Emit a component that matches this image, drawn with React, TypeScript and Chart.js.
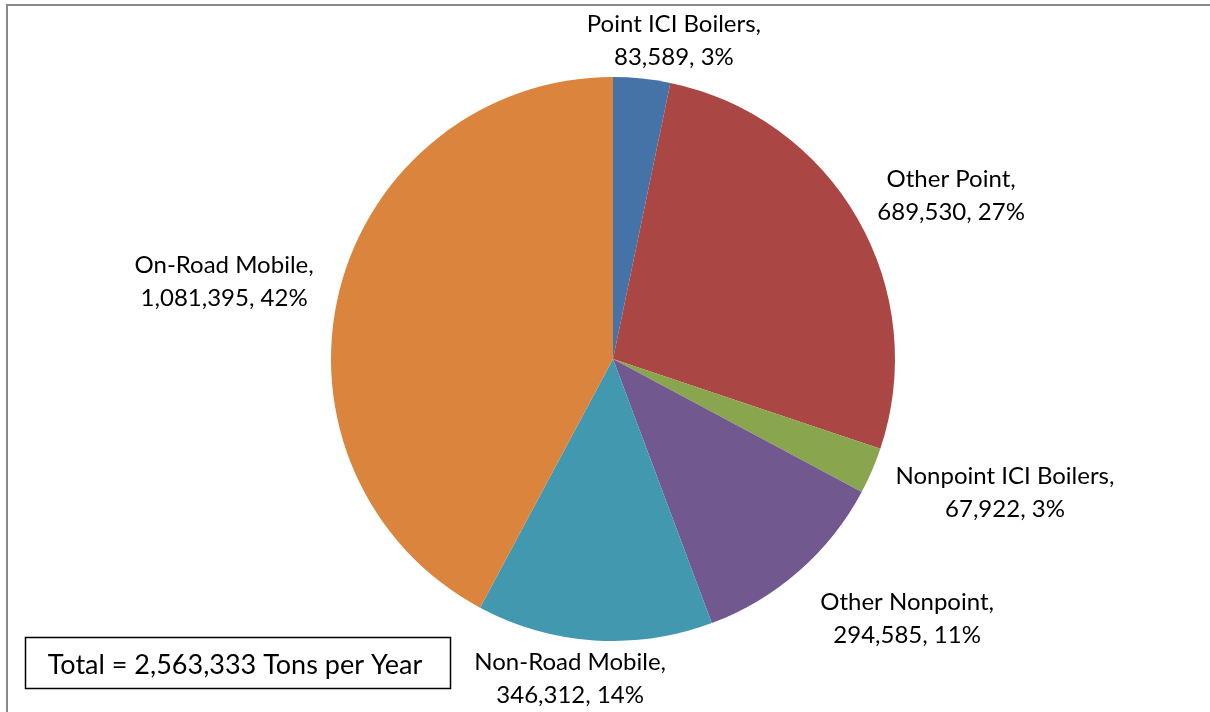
import React, { useEffect, useRef } from "react";
import { Chart, registerables } from "chart.js";

Chart.register(...registerables);

const categories = [
  "Point ICI Boilers",
  "Other Point",
  "Nonpoint ICI Boilers",
  "Other Nonpoint",
  "Non-Road Mobile",
  "On-Road Mobile",
];
const values = [83589, 689530, 67922, 294585, 346312, 1081395];
const percentLabels = ["3%", "27%", "3%", "11%", "14%", "42%"];
const colors = ["#4572A7", "#AA4643", "#89A54E", "#71588F", "#4198AF", "#DB843D"];
const totalText = "Total = 2,563,333 Tons per Year";

// label anchor offsets relative to pie centre, in units of radius
const labelOffsets: [number, number][] = [
  [0.216, -1.128],
  [1.199, -0.58],
  [1.39, 0.473],
  [1.043, 0.92],
  [-0.152, 1.135],
  [-1.379, -0.275],
];

const FONT = "Lato, 'Open Sans', sans-serif";

const fmt = (v: number) => v.toLocaleString("en-US");

const labelPlugin = {
  id: "pieLabels",
  beforeDraw(chart: any) {
    const ctx = chart.ctx;
    ctx.save();
    ctx.strokeStyle = "#898989";
    ctx.lineWidth = 2;
    ctx.beginPath();
    ctx.moveTo(7, 712);
    ctx.lineTo(7, 5);
    ctx.lineTo(1210, 5);
    ctx.stroke();
    ctx.restore();
  },
  afterDraw(chart: any) {
    const ctx = chart.ctx;
    const meta = chart.getDatasetMeta(0);
    ctx.save();
    ctx.fillStyle = "#000";
    ctx.textAlign = "center";
    ctx.textBaseline = "middle";
    ctx.font = `24px ${FONT}`;
    meta.data.forEach((arc: any, i: number) => {
      const { x, y, outerRadius } = arc.getProps(["x", "y", "outerRadius"], true);
      const [fx, fy] = labelOffsets[i];
      const cx = x + fx * outerRadius;
      const cy = y + fy * outerRadius;
      ctx.fillText(categories[i] + ",", cx, cy - 16.5);
      ctx.fillText(`${fmt(values[i])}, ${percentLabels[i]}`, cx, cy + 16.5);
    });
    // total box
    ctx.strokeStyle = "#000";
    ctx.lineWidth = 1.5;
    ctx.strokeRect(25.5, 637.5, 425, 51);
    ctx.font = `27px ${FONT}`;
    ctx.fillText(totalText, 235, 665);
    ctx.restore();
  },
};

export default function App() {
  const ref = useRef<HTMLCanvasElement>(null);
  useEffect(() => {
    if (!ref.current) return;
    const chart = new Chart(ref.current, {
      type: "pie",
      data: {
        labels: categories,
        datasets: [
          {
            data: values,
            backgroundColor: colors,
            borderWidth: 0,
          },
        ],
      },
      options: {
        responsive: true,
        maintainAspectRatio: false,
        animation: false,
        layout: { padding: { left: 331, right: 315, top: 77, bottom: 71 } },
        plugins: {
          legend: { display: false },
          tooltip: { enabled: false },
        },
      },
      plugins: [labelPlugin],
    });
    return () => chart.destroy();
  }, []);
  return (
    <div style={{ position: "fixed", left: 0, top: 0, width: 1210, height: 712, background: "#fff" }}>
      <canvas ref={ref} />
    </div>
  );
}
